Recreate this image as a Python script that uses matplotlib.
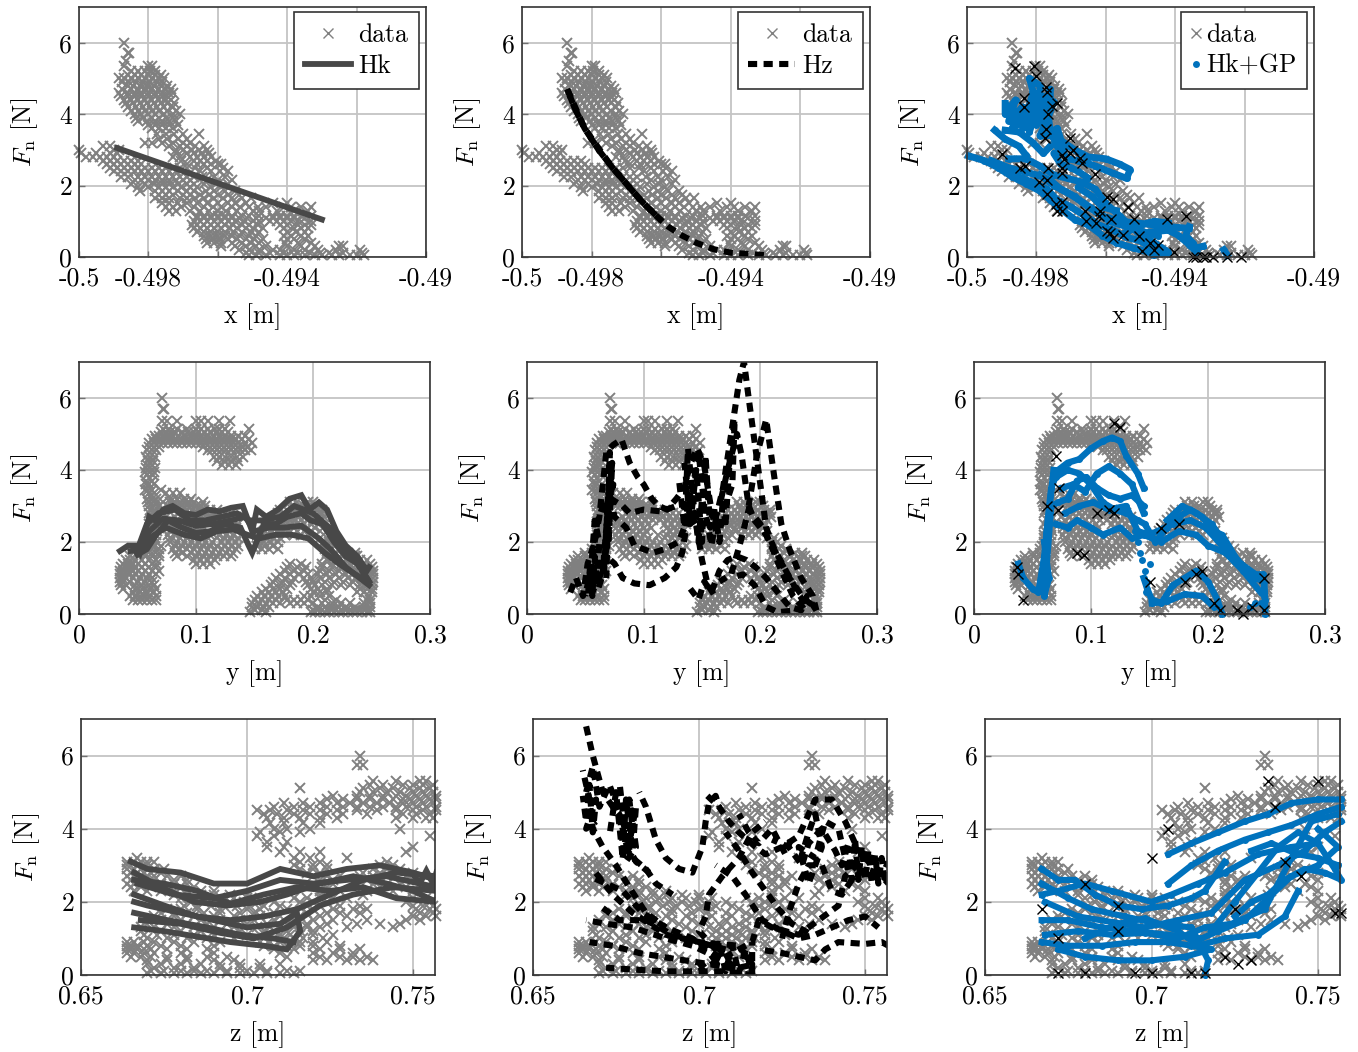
#!/usr/bin/env python
import matplotlib
matplotlib.use('AGG')
import matplotlib.pyplot as plt

plt.rcParams['font.family'] = ['cmr10', 'DejaVu Serif']
plt.rcParams['mathtext.fontset'] = 'cm'
plt.rcParams['axes.unicode_minus'] = False
plt.rcParams['axes.formatter.use_mathtext'] = True

W, H = 1358, 1052
GRAY = '#808080'
DARK = '#484848'
BLUE = '#0072BD'
FS = 18.5

# measured data, each row is (force, positions at that force). positions in mm
x_bands = [
    (6.0, [-498.7]), (5.7, [-498.6, -498.55]), (5.5, [-498.65]), (5.35, [-498.7, -498.0, -497.9]),
    (5.2, [-498.5, -498.3, -498.1, -497.95, -497.8]),
    (5.0, [-498.85, -498.7, -498.5, -498.3, -498.1, -497.9, -497.7, -497.55]),
    (4.8, [-498.6, -498.45, -498.25, -498.05, -497.85, -497.65, -497.45, -497.95, -498.15]),
    (4.6, [-498.85, -498.6, -498.4, -498.2, -498, -497.8, -497.6, -497.4, -497.3]),
    (4.4, [-498.7, -498.5, -498.3, -498.1, -497.9, -497.7, -497.5, -497.35]),
    (4.2, [-498.6, -498.35, -498.15, -497.95, -497.75, -497.55, -497.3]),
    (4.0, [-498.4, -498.2, -498.0, -497.8, -497.55, -497.3, -497.1]),
    (3.8, [-498.3, -498.05, -497.8, -497.6, -497.4, -497.2]),
    (3.6, [-497.9, -497.7, -497.5, -497.3]),
    (3.45, [-497.75, -497.5, -497.25, -497.0, -496.55]),
    (3.2, [-498.1, -497.9, -497.6, -497.3, -497, -496.8]),
    (3.0, [-497.2, -497, -496.75, -496.55, -496.3, -500, -499.0, -498.85]),
    (2.8, [-497.3, -497.1, -496.8, -496.6, -496.4, -496.2, -499.8, -499.6, -499.4, -499.2, -499.0]),
    (2.6, [-496.9, -496.6, -496.4, -496.2, -496, -495.9, -499.2, -499, -498.8, -498.6, -498.4, -498.2]),
    (2.4, [-496.5, -496.2, -495.95, -495.7, -499, -498.8, -498.6, -498.4, -498.2, -498, -497.8, -497.6, -497.4, -497.2]),
    (2.15, [-498.4, -498.2, -498, -497.8, -497.6, -497.4, -497.2, -497, -496.8, -496.3, -496, -495.6]),
    (1.95, [-498.3, -498.0, -497.7, -497.5, -497.3, -497.05, -496.8, -496.6, -496.2, -495.9]),
    (1.75, [-497.7, -497.5, -497.3, -497, -496.8, -496.5, -496.25, -496, -495.7, -495.4]),
    (1.5, [-497.6, -497.4, -497.15, -496.9, -496.6, -496.3, -496, -495.7, -495.5, -495.2, -494.4, -494.0]),
    (1.3, [-497.4, -497.2, -496.8, -496.5, -496.25, -496, -495.75, -495.45, -495, -494.8, -494.3, -493.4, -493.8]),
    (1.15, [-496.6, -496.4, -496.2, -496, -495.8, -495.6, -495.3, -495.1, -494.8, -494.4, -494.2, -494, -493.8, -493.6, -493.3]),
    (1.0, [-496.7, -496.5, -496.3, -496.1, -495.9, -495.7, -495.5, -495.25, -495, -494.8, -494.5, -494.3, -494.1, -493.9, -493.7, -493.3]),
    (0.8, [-496.7, -496.5, -496.3, -496.1, -495.9, -495.65, -495.45, -495.2, -495, -494.7, -494.1, -493.8, -493.6, -493.4]),
    (0.6, [-496.4, -496.2, -496, -495.8, -495.6, -495.35, -495.1, -494.9, -494.1, -493.9, -493.6, -493.4]),
    (0.4, [-496.3, -496.1, -495.9, -495.6, -495.3, -495.05, -494.8, -494.05, -493.7, -493.3]),
    (0.2, [-495.4, -495.1, -494.8, -494.4, -494.2, -493.8, -493.5, -493.1, -492.6, -491.9]),
    (0.05, [-495.1, -494.9, -494.6, -494.2, -494, -493.8, -493.5, -493.2, -493, -492.7, -492.5, -492.2, -492, -491.8]),
    # second pass, the dense parts of the cloud
    (5.1, [-498.6, -498.4, -498.2, -498, -497.8, -497.65]),
    (4.9, [-498.75, -498.55, -498.35, -498.15, -497.95, -497.75, -497.6]),
    (4.7, [-498.75, -498.5, -498.3, -498.1, -497.9, -497.7, -497.5, -497.35]),
    (4.5, [-498.8, -498.6, -498.4, -498.2, -498, -497.8, -497.6, -497.45]),
    (4.3, [-498.65, -498.45, -498.25, -498.05, -497.85, -497.65, -497.45, -497.25]),
    (4.1, [-498.5, -498.3, -498.1, -497.9, -497.7, -497.45, -497.2]),
    (3.9, [-498.35, -498.15, -497.9, -497.7, -497.5, -497.3]),
    (3.7, [-498, -497.8, -497.6, -497.4, -497.15]),
    (3.3, [-497.7, -497.45, -497.15, -496.9]),
    (3.1, [-497.4, -497.1, -496.9, -496.65, -496.4, -499.1, -499.3]),
    (2.9, [-497.2, -496.9, -496.7, -496.45, -496.25, -499.95, -499.5, -499.1, -498.9]),
    (2.7, [-497.05, -496.7, -496.5, -496.3, -496.05, -499.3, -499.1, -498.9, -498.7, -498.5, -498.3]),
    (2.5, [-499.1, -498.9, -498.7, -498.5, -498.3, -498.1, -497.9, -497.7, -497.5, -497.3, -497.1, -496.9, -496.65, -496.3, -495.85]),
    (2.25, [-498.8, -498.6, -498.3, -498.1, -497.9, -497.7, -497.5, -497.3, -497.1, -496.9, -496.7, -496.45, -496.1, -495.8]),
    (2.05, [-498.5, -498.1, -497.85, -497.6, -497.4, -497.15, -496.9, -496.7, -496.4, -496.05, -495.7]),
    (1.85, [-498.25, -497.8, -497.6, -497.4, -497.15, -496.9, -496.7, -496.35, -496.1, -495.8, -495.5]),
    (1.65, [-497.8, -497.6, -497.4, -497.1, -496.9, -496.65, -496.4, -496.1, -495.85, -495.6, -495.3, -495.05]),
    (1.4, [-497.5, -497.3, -497.05, -496.7, -496.4, -496.15, -495.9, -495.6, -495.35, -495.1, -494.85, -494.6, -494.1, -493.9, -493.6, -493.3]),
    (1.08, [-496.6, -496.4, -496.2, -496, -495.8, -495.6, -495.4, -495.15, -494.9, -494.6, -494.4, -494.2, -494, -493.8, -493.5]),
    (0.9, [-496.75, -496.6, -496.4, -496.2, -496, -495.8, -495.55, -495.3, -495.1, -494.85, -494.2, -494, -493.7, -493.5, -493.3]),
    (0.7, [-496.6, -496.4, -496.2, -496, -495.8, -495.55, -495.3, -495.05, -494.8, -494, -493.75, -493.5]),
    (0.5, [-496.35, -496.15, -495.95, -495.7, -495.45, -495.2, -494.95, -494.7, -494, -493.8, -493.5]),
    (0.3, [-495.9, -495.5, -495.2, -494.9, -494.6, -494, -493.6, -493.2, -492.5, -492.4]),
    (0.12, [-495.2, -494.8, -494.5, -494.1, -493.7, -493.35, -493.05, -492.8, -492.4, -491.85]),
]
y_bands = [
    (6.0, [71]), (5.7, [72, 73]), (5.35, [71, 75, 84, 100, 104, 110, 120, 129]),
    (5.15, [72, 77, 84, 92, 100, 104, 110, 116, 120, 125, 145]),
    (4.95, [65, 68, 72, 76, 80, 85, 90, 95, 100, 105, 110, 115, 120, 125, 130, 136, 142]),
    (4.75, [60, 64, 68, 72, 76, 80, 84, 88, 92, 96, 100, 104, 108, 112, 116, 120, 124, 128, 132, 136, 142, 148]),
    (4.55, [58, 62, 66, 110, 114, 118, 122, 126, 130, 134, 138, 142, 147]),
    (4.35, [57, 61, 65, 115, 120, 125, 130, 135, 140]),
    (4.15, [58, 62, 122, 128, 134]), (3.95, [56, 60, 64]), (3.7, [57, 62]), (3.45, [56, 59, 62, 70]),
    (3.2, [58, 62, 66, 78, 84, 90, 96]),
    (3.0, [60, 64, 68, 76, 80, 84, 88, 92, 96, 100, 104, 108, 182, 188, 192, 202]),
    (2.8, [60, 64, 85, 90, 95, 100, 105, 110, 115, 120, 125, 130, 170, 175, 180, 185, 190, 195, 200, 205, 208]),
    (2.6, [62, 66, 78, 84, 90, 96, 102, 108, 114, 120, 126, 132, 165, 170, 175, 180, 185, 190, 195, 200, 206]),
    (2.4, [62, 66, 76, 82, 88, 94, 100, 106, 120, 126, 134, 160, 166, 172, 178, 184, 190, 196, 202]),
    (2.2, [60, 66, 76, 82, 88, 94, 100, 112, 120, 126, 132, 156, 162, 168, 176, 184, 190, 196]),
    (2.0, [60, 66, 78, 84, 90, 96, 102, 108, 114, 122, 128, 134, 152, 158, 164, 170, 210, 214]),
    (1.8, [56, 62, 68, 80, 86, 92, 98, 104, 110, 116, 122, 128, 134, 150, 156, 162, 170, 210, 216, 222]),
    (1.6, [44, 50, 56, 62, 68, 84, 92, 100, 106, 112, 118, 124, 130, 210, 218, 226, 236, 238]),
    (1.4, [38, 42, 46, 50, 56, 62, 66, 100, 106, 112, 180, 190, 208, 216, 224, 232, 238, 244, 249]),
    (1.2, [35, 38, 42, 46, 50, 56, 62, 68, 176, 184, 192, 206, 214, 222, 230, 236, 242, 248, 251]),
    (1.0, [35, 37, 40, 46, 52, 58, 62, 168, 176, 184, 192, 198, 206, 214, 222, 230, 236, 242, 248, 251]),
    (0.8, [36, 40, 48, 54, 60, 64, 164, 172, 180, 196, 202, 208, 216, 224, 232, 240, 246, 250]),
    (0.6, [46, 52, 58, 64, 156, 162, 168, 174, 200, 206, 212, 238, 244, 250]),
    (0.4, [46, 50, 54, 58, 62, 66, 150, 156, 162, 168, 178, 184, 190, 196, 210, 220, 246, 249]),
    (0.2, [148, 152, 158, 162, 204, 210, 216, 222, 228, 236, 244, 249]),
    (0.05, [146, 160, 198, 202, 206, 210, 214, 218, 222, 226, 230, 234, 238, 242, 246, 249]),
    # second pass
    (5.05, [70, 74, 78, 82, 88, 93, 98, 102, 107, 112, 118, 122, 127]),
    (4.85, [62, 66, 70, 74, 78, 82, 86, 90, 94, 98, 102, 106, 110, 114, 118, 122, 126, 130, 134, 139, 145]),
    (4.65, [60, 64, 68, 106, 112, 116, 120, 124, 128, 132, 136, 140, 144]),
    (4.25, [59, 63, 118, 124, 130, 136]), (4.05, [57, 61, 65]), (3.85, [58, 63]), (3.6, [57, 60, 64]),
    (3.35, [60, 64, 74, 80, 86]),
    (3.1, [59, 63, 67, 72, 78, 82, 86, 90, 94, 98, 106, 180, 186, 196, 200]),
    (2.9, [61, 65, 70, 88, 92, 97, 102, 107, 112, 118, 172, 178, 183, 188, 193, 198, 203, 208]),
    (2.7, [63, 67, 74, 82, 87, 92, 98, 104, 110, 116, 122, 128, 134, 168, 173, 178, 183, 188, 193, 198, 204, 209]),
    (2.5, [60, 65, 76, 80, 86, 92, 98, 104, 118, 124, 130, 136, 162, 168, 174, 180, 186, 192, 198, 204]),
    (2.3, [61, 67, 78, 84, 90, 96, 102, 122, 128, 134, 158, 164, 170, 178, 186, 192, 198, 206]),
    (2.1, [60, 65, 78, 86, 92, 98, 104, 118, 124, 130, 136, 154, 160, 166, 172, 206, 212]),
    (1.9, [58, 64, 70, 82, 88, 94, 100, 106, 112, 118, 124, 130, 136, 152, 158, 166, 210, 218]),
    (1.7, [50, 56, 62, 68, 82, 88, 96, 102, 108, 114, 120, 126, 132, 212, 220, 230, 236]),
    (1.5, [40, 44, 48, 54, 60, 66, 98, 104, 110, 116, 212, 220, 228, 234, 240, 246]),
    (1.3, [36, 40, 44, 48, 54, 60, 66, 178, 186, 194, 208, 216, 224, 232, 238, 244, 250]),
    (1.1, [35, 38, 42, 48, 54, 60, 66, 172, 180, 188, 196, 204, 212, 220, 228, 234, 240, 246, 251]),
    (0.9, [35, 38, 44, 50, 56, 62, 166, 174, 182, 194, 200, 210, 218, 226, 234, 242, 248, 251]),
    (0.7, [38, 48, 54, 60, 66, 160, 166, 172, 178, 198, 204, 212, 240, 246, 250]),
    (0.5, [44, 48, 52, 56, 60, 66, 152, 158, 164, 170, 176, 192, 198, 206, 214, 248]),
    (0.3, [148, 154, 160, 166, 172, 180, 186, 192, 200, 208, 216, 224, 232, 244, 249]),
    (0.12, [150, 156, 200, 204, 208, 212, 216, 220, 224, 228, 232, 236, 240, 244, 248]),
]
z_bands = [
    (6.0, [734]), (5.75, [733, 735]), (5.3, [738, 745, 752, 754]),
    (5.1, [716, 735, 740, 744, 749, 752, 755]),
    (4.9, [726, 733, 737, 741, 745, 748, 751, 754, 757]),
    (4.7, [711, 717, 722, 727, 731, 735, 739, 743, 747, 750, 753, 756]),
    (4.5, [703, 707, 712, 717, 722, 727, 733, 739, 745, 750, 753, 757]),
    (4.3, [706, 711, 716, 722, 727, 745, 750, 754, 756]),
    (4.0, [708, 712, 719, 746]), (3.8, [703, 708, 755]), (3.5, [706, 711, 750]),
    (3.2, [714, 719, 730, 667]),
    (3.0, [664, 667, 670, 714, 720, 724, 740, 744]),
    (2.8, [665, 667, 669, 671, 674, 718, 722, 735, 740, 744, 750]),
    (2.6, [665, 667, 669, 672, 678, 682, 722, 726, 736, 740, 750]),
    (2.4, [665, 668, 671, 676, 680, 684, 724, 740, 748]),
    (2.2, [678, 682, 686, 690, 695, 700, 722, 735]),
    (2.0, [683, 687, 691, 695, 699, 703, 708, 716, 720, 724, 748, 755]),
    (1.8, [676, 680, 685, 692, 700, 704, 712, 720, 726, 732, 736, 751, 755, 757]),
    (1.6, [672, 678, 684, 690, 696, 704, 710, 716, 722, 730, 750, 754, 757]),
    (1.4, [670, 676, 682, 688, 694, 700, 706, 712, 718, 724, 733, 740, 746]),
    (1.2, [668, 674, 680, 686, 692, 698, 705, 708, 712, 716, 720]),
    (1.0, [670, 676, 682, 688, 696, 705, 708, 711, 714, 717, 723]),
    (0.8, [664, 665, 667, 670, 674, 680, 690, 705, 708, 712, 716, 720, 728]),
    (0.6, [664, 666, 669, 672, 680, 690, 710, 720, 726, 732]),
    (0.4, [670, 676, 682, 690, 696, 720, 724, 730, 734, 738]),
    (0.2, [672, 678, 684, 692, 698, 704]),
    (0.05, [670, 674, 678, 682, 686, 690, 694, 698, 702, 706, 710, 714]),
    # second pass
    (5.2, [737, 741, 747, 750, 753, 756]),
    (5.0, [734, 738, 742, 746, 750, 753, 756]),
    (4.8, [724, 729, 733, 737, 741, 744, 747, 749, 752, 755, 757]),
    (4.6, [708, 714, 719, 724, 729, 733, 737, 741, 745, 748, 751, 754, 757]),
    (4.4, [705, 709, 714, 719, 724, 729, 736, 747, 751, 755]),
    (4.15, [707, 711, 717, 722]), (3.9, [704, 710, 716]), (3.65, [706, 712]), (3.35, [710, 716, 722, 748]),
    (3.1, [664, 666, 668, 670, 672, 716, 722, 742]),
    (2.9, [664, 666, 668, 670, 672, 675, 716, 720, 724, 738, 742, 746]),
    (2.7, [664, 666, 668, 670, 672, 676, 680, 720, 724, 728, 734, 738, 742, 748]),
    (2.5, [664, 666, 668, 670, 674, 678, 682, 722, 726, 738, 742, 746]),
    (2.3, [666, 670, 674, 678, 682, 686, 690, 722, 728, 736, 744, 750]),
    (2.1, [680, 684, 688, 692, 696, 700, 704, 714, 718, 722, 726, 730, 750, 754]),
    (1.9, [681, 685, 689, 693, 697, 701, 705, 710, 718, 722, 728, 734, 750, 753, 756]),
    (1.7, [674, 678, 682, 687, 692, 698, 702, 708, 714, 718, 724, 728, 734, 752, 756]),
    (1.5, [670, 674, 680, 686, 692, 698, 702, 708, 714, 720, 726, 736, 748, 752]),
    (1.3, [668, 672, 678, 684, 690, 696, 703, 707, 710, 714, 718, 722, 730, 744]),
    (1.1, [669, 673, 678, 684, 690, 700, 704, 707, 710, 713, 716, 720, 726]),
    (0.9, [664, 666, 669, 672, 678, 684, 692, 704, 707, 710, 713, 716, 720, 724]),
    (0.7, [664, 665, 667, 669, 671, 676, 682, 688, 708, 714, 722, 728, 734]),
    (0.5, [665, 668, 671, 676, 682, 688, 694, 712, 722, 728, 732, 736]),
    (0.3, [670, 674, 680, 686, 692, 698, 704, 710]),
    (0.12, [671, 675, 680, 684, 688, 694, 700, 706, 712, 716]),
]

# model traces as (position mm, force)
hk_x = [[(-498.9, 3.05), (-493.0, 1.05)]]
hz_x = [
    [(-498.7, 4.7), (-498.5, 4.2), (-498.2, 3.6), (-497.8, 3.0), (-497.4, 2.5), (-497, 2.05), (-496.6, 1.6),
     (-496.2, 1.2), (-495.8, 0.85), (-495.4, 0.6), (-495, 0.4), (-494.5, 0.22), (-494, 0.12), (-493, 0.05)],
    [(-496.0, 1.02), (-496.6, 1.6), (-497, 2.05), (-497.4, 2.5), (-497.8, 3.0), (-498.2, 3.6), (-498.5, 4.2), (-498.7, 4.7)],
    [(-498.7, 4.7), (-498.2, 3.6), (-497.4, 2.5), (-496.6, 1.6), (-496.0, 1.02)],
]
gp_x = [
    [(-499.95, 2.83), (-499.5, 2.7), (-499.1, 2.5), (-498.7, 2.25), (-498.3, 2.05), (-497.9, 1.85), (-497.6, 1.6),
     (-497.3, 1.35), (-496.9, 1.05), (-496.5, 0.9), (-496.1, 0.6), (-495.7, 0.4), (-495.2, 0.25), (-494.7, 0.12), (-494.4, 0.1)],
    [(-499.3, 2.7), (-498.8, 2.5), (-498.4, 2.4), (-498, 2.3), (-497.6, 2.15), (-497.3, 1.9), (-496.9, 1.7), (-496.5, 1.4),
     (-496.1, 1.15), (-495.6, 1.0), (-495.1, 0.95), (-494.6, 0.9), (-494.2, 0.85), (-493.6, 0.8)],
    [(-498.8, 2.75), (-498.3, 2.75), (-497.9, 2.55), (-497.5, 2.3), (-497.1, 2.2), (-496.7, 2.1), (-496.3, 1.9), (-496, 1.5),
     (-495.6, 1.15), (-495.1, 0.7), (-494.6, 0.4), (-494.3, 0.2)],
    [(-498.9, 2.4), (-498.4, 2.2), (-498, 2.05), (-497.7, 1.9), (-497.4, 1.6), (-497, 1.4), (-496.6, 1.15), (-496.2, 0.9), (-495.8, 0.75),
     (-495.4, 0.55), (-495, 0.45), (-494.6, 0.2)],
    [(-497.9, 2.3), (-497.5, 2.0), (-497.1, 1.8), (-496.7, 1.55), (-496.3, 1.3), (-495.9, 1.0), (-495.4, 0.85), (-494.9, 0.7), (-494.5, 0.6)],
    [(-498.9, 4.3), (-498.9, 4.0), (-498.6, 4.4), (-498.8, 3.8), (-498.4, 4.2), (-498.7, 3.6), (-498.3, 3.9), (-498.1, 4.6), (-498.2, 3.5),
     (-498, 4.3), (-498.2, 5.0), (-497.9, 4.8), (-497.9, 4.0), (-497.6, 4.7), (-497.6, 4.2), (-497.5, 4.35), (-497.7, 3.8), (-497.9, 3.4),
     (-497.5, 3.4), (-497.2, 3.2), (-496.9, 3.0), (-496.5, 2.8), (-496.0, 2.75), (-495.6, 2.6), (-495.3, 2.45), (-495.4, 2.2), (-495.8, 2.35),
     (-496.3, 2.55), (-496.8, 2.7), (-497.1, 2.75), (-497.4, 3.1), (-497.6, 3.5)],
    [(-498.85, 4.15), (-498.5, 4.0), (-498.6, 3.7), (-498.2, 4.1), (-498.4, 3.6), (-498.1, 4.4), (-498.0, 3.7), (-497.8, 4.5), (-497.8, 3.6),
     (-497.7, 4.3), (-497.6, 3.5), (-497.4, 3.6), (-497.2, 3.0), (-497.5, 2.9), (-497.3, 2.6), (-497, 2.5), (-496.8, 2.4), (-496.5, 2.2),
     (-496.8, 1.95), (-496.4, 1.7), (-496.1, 1.4), (-495.7, 1.3)],
    [(-499.2, 3.55), (-498.9, 3.3), (-498.5, 3.1), (-498.3, 2.85)],
    [(-498.9, 3.55), (-498.5, 3.5), (-498.1, 3.2), (-497.8, 2.9), (-497.6, 3.1)],
    [(-493.6, 0.85), (-493.7, 0.6), (-493.5, 0.4), (-493.4, 0.25), (-493.2, 0.3)],
    [(-494.7, 0.7), (-494.2, 0.75), (-493.9, 0.6), (-493.6, 0.35), (-493.4, 0.15)],
    [(-495.4, 0.7), (-495, 0.9), (-494.6, 1.0), (-494.2, 0.95)],
    [(-492.6, 0.2), (-492.5, 0.05)], [(-494.6, 0.06), (-494.2, 0.12)],
]
black_x = [(-498.61, 5.28), (-498.07, 5.35), (-498.0, 5.07), (-497.72, 4.75), (-497.7, 4.63), (-498.35, 4.44), (-498.35, 4.2),
           (-497.54, 4.24), (-497.4, 4.3), (-497.67, 4.0), (-497.72, 3.58), (-497.74, 3.32), (-497.03, 3.32), (-499, 2.89),
           (-498.33, 2.56), (-498.47, 2.5), (-497.67, 2.5), (-497.25, 2.86), (-497.2, 2.75), (-497.03, 2.9), (-496.95, 3.0),
           (-496.75, 2.77), (-496.7, 2.63), (-497.27, 2.48), (-497.27, 2.35), (-496.3, 2.32), (-497.92, 2.1), (-497.7, 2.16),
           (-497.7, 1.76), (-497.43, 1.49), (-497.27, 1.54), (-497.41, 1.28), (-497.27, 1.28), (-496.6, 1.3), (-496.17, 1.28),
           (-496.19, 1.16), (-495.96, 1.69), (-495.79, 1.63), (-495.36, 1.4), (-495.2, 1.07), (-495.84, 1.07), (-496.58, 1),
           (-496.28, 0.95), (-495.96, 0.72), (-495.87, 0.67), (-495.8, 0.53), (-495.5, 0.62), (-495.04, 0.6), (-494.96, 0.16),
           (-494.74, 0.39), (-494.5, 0.34), (-494.6, 0.2), (-494.04, 0.14), (-494.23, 1.07), (-493.68, 1.14), (-493.5, 0),
           (-493.4, 0), (-493.2, 0), (-493.1, 0), (-492.9, 0), (-492.5, 0), (-492.1, 0)]

hk_y = [
    [(35, 1.75), (42, 1.9), (48, 1.9), (52, 1.7), (56, 2.2), (60, 2.7), (65, 2.6), (72, 2.9), (80, 3.0), (90, 2.8), (100, 2.75),
     (110, 2.9), (120, 2.85), (130, 2.95), (140, 3.0), (148, 2.3), (152, 2.9), (160, 2.7), (170, 2.9), (180, 3.2), (190, 3.3),
     (197, 2.9), (205, 3.1), (212, 2.9), (220, 2.3), (228, 1.9), (238, 1.6), (246, 1.2), (248, 1.3)],
    [(248, 0.9), (238, 1.4), (228, 1.6), (218, 2.0), (208, 2.5), (198, 2.6), (190, 2.8), (178, 2.7), (168, 2.5), (158, 2.5),
     (148, 1.7), (145, 1.9), (138, 2.4), (125, 2.5), (112, 2.3), (100, 2.25), (88, 2.4), (76, 2.6), (66, 2.2), (58, 1.8), (50, 1.65)],
    [(52, 1.9), (60, 2.3), (72, 2.65), (85, 2.6), (100, 2.45), (115, 2.5), (130, 2.6), (142, 2.7), (150, 2.3), (162, 2.4),
     (175, 2.4), (190, 2.45), (205, 2.1), (215, 1.8), (228, 1.3), (240, 1.0), (248, 0.8)],
    [(50, 1.8), (58, 2.5), (68, 2.8), (82, 2.9), (95, 2.6), (108, 2.6), (122, 2.7), (135, 2.8), (146, 2.6), (156, 2.6), (172, 2.7),
     (184, 3.0), (200, 2.8), (214, 2.4), (225, 1.9), (236, 1.5), (246, 1.0)],
    [(44, 1.75), (54, 1.8), (60, 2.1), (74, 2.4), (90, 2.2), (104, 2.1), (118, 2.3), (132, 2.35), (144, 2.2), (154, 2.1), (168, 2.2),
     (182, 2.2), (196, 2.1), (210, 1.7), (222, 1.4), (236, 1.1), (247, 0.9)],
]
hz_y = [
    [(37, 0.6), (42, 1.0), (48, 0.5), (52, 1.4), (58, 2.0), (62, 2.7), (68, 4.5), (74, 4.7), (81, 4.85), (88, 4.2), (95, 3.8),
     (100, 3.6), (107, 3.2), (113, 3.0), (120, 2.9), (128, 3.2), (135, 3.5), (140, 4.2), (146, 4.6), (152, 4.1), (158, 2.9), (162, 2.3)],
    [(50, 0.5), (56, 1.5), (60, 2.5), (65, 3.0), (72, 3.2), (82, 3.0), (88, 2.8), (100, 2.9), (115, 2.85), (128, 3.0), (135, 3.0), (145, 2.5), (152, 2.4)],
    [(52, 0.7), (60, 0.6), (66, 1.2), (70, 3.5), (75, 2.7), (85, 2.4), (92, 1.9), (100, 1.8), (108, 1.7), (118, 1.8), (130, 2.0), (136, 2.5), (142, 3.5), (147, 4.5), (152, 3.0)],
    [(56, 0.8), (62, 1.0), (68, 1.6), (75, 1.4), (82, 1.0), (92, 0.85), (105, 0.8), (118, 1.0), (128, 1.3), (133, 1.7), (137, 2.5), (140, 3.3), (145, 2.5), (150, 1.5), (155, 0.8), (160, 0.55)],
    [(140, 0.7), (147, 0.4), (152, 0.9), (158, 0.6), (165, 1.2), (172, 1.5), (180, 1.6), (188, 1.5), (196, 1.3), (205, 1.0), (215, 0.6), (225, 0.2), (235, 0.1), (240, 0.5), (248, 0.1)],
    [(160, 2.4), (168, 3.5), (175, 5), (182, 6.5), (186, 7), (190, 6), (195, 4.8), (200, 3.6), (205, 2.4), (212, 1.8), (222, 1.2), (232, 0.6), (240, 0.2)],
    [(190, 3.0), (197, 4.4), (205, 5.4), (212, 3.8), (218, 2.5), (225, 1.8), (235, 1.0), (245, 0.5), (248, 0.1)],
    [(165, 3.0), (172, 4.0), (180, 5.0), (184, 4.4), (190, 3.0), (195, 2.6), (205, 2.2), (215, 1.6), (225, 1.0), (238, 0.4), (247, 0.2)],
    [(165, 0.9), (175, 1.1), (183, 2.0), (190, 2.9), (200, 2.5), (208, 2.0), (218, 1.2), (228, 0.5), (240, 0.05)],
    [(175, 1.0), (185, 1.1), (195, 0.8), (205, 0.2), (215, 0.05), (230, 0.1)],
    [(68, 1.0), (71, 4.5), (70, 2.0), (73, 4.2), (69, 2.8), (72, 4.0), (68, 1.8), (65, 1.2), (70, 3.2), (74, 3.6), (68, 3.0)],
    [(52, 0.4), (54, 1.3), (56, 0.5), (58, 1.6), (60, 0.8), (62, 2.0), (58, 2.6), (54, 0.8)],
    [(135, 4.2), (140, 2.5), (145, 4.0), (150, 2.0), (153, 4.4), (157, 2.4), (160, 3.0), (165, 2.0), (168, 3.2), (170, 2.4), (174, 4.4), (178, 5.4), (176, 3.6), (170, 3.0)],
    [(130, 3.8), (135, 2.4), (138, 4.6), (143, 3.0), (147, 2.0), (150, 3.2), (155, 2.5), (158, 1.9), (163, 2.8)],
]
gp_y = [
    [(38, 1.4), (42, 1.0), (50, 0.7), (55, 0.6), (60, 1.6), (63, 2.6), (66, 3.5), (72, 4.0), (80, 4.2), (90, 4.3), (100, 4.6),
     (110, 4.8), (118, 4.9), (125, 4.8), (130, 4.4), (140, 3.9), (145, 3.5)],
    [(66, 3.0), (72, 3.1), (80, 3.2), (88, 3.7), (96, 3.8), (105, 3.5), (115, 3.3), (125, 3.2), (135, 3.3), (145, 3.0)],
    [(70, 3.8), (80, 4.0), (90, 3.9), (100, 3.6), (110, 3.1), (120, 2.9), (130, 2.8), (140, 2.6), (146, 2.5), (155, 2.0), (165, 2.4),
     (175, 2.7), (185, 2.9), (195, 2.7), (205, 2.3), (212, 2.2), (225, 1.5), (240, 1.0), (248, 0.9), (249, 0)],
    [(70, 2.5), (80, 2.4), (88, 2.6), (100, 2.4), (110, 2.2), (125, 2.4), (135, 2.1), (145, 2.2), (160, 2.0), (175, 2.3), (190, 2.2),
     (200, 1.9), (215, 1.7), (230, 1.2), (245, 0.6)],
    [(145, 1.0), (148, 0.7), (152, 0.4), (160, 0.3), (170, 0.8), (180, 1.0), (190, 1.2), (200, 0.9), (208, 0.4), (212, 0.0)],
    [(152, 0.3), (165, 0.35), (180, 0.55), (195, 0.5), (205, 0.2)],
    [(60, 2.0), (64, 1.0), (60, 0.5), (66, 3.0), (62, 2.2), (68, 4.0)],
    [(75, 3.5), (85, 3.6), (95, 3.4), (105, 3.9), (115, 4.1), (125, 3.9), (135, 3.6), (145, 2.8)],
    [(78, 2.8), (90, 3.0), (102, 3.1), (115, 2.9), (130, 3.0), (140, 2.3), (150, 2.2), (170, 2.5), (185, 2.6), (198, 2.4), (212, 1.9), (228, 1.4), (245, 1.0)],
    [(165, 2.6), (178, 3.0), (190, 2.8), (203, 2.5), (218, 1.8), (235, 1.1), (247, 1.1), (249, 0.4)],
]
gp_y_dots = [(138, 2.3), (140, 2.0), (142, 1.7), (144, 1.5), (146, 1.2), (148, 0.9), (147, 0.6), (150, 1.4), (236, 0.2), (240, 0.3), (245, 0.3), (248, 0.5)]
black_y = [(37, 1.3), (38, 1.1), (42, 0.4), (62, 3.0), (72, 2.9), (73, 3.5), (70, 4.4), (120, 5.3), (125, 5.2), (115, 2.9), (120, 2.8),
           (105, 2.8), (88, 1.7), (94, 1.65), (150, 0.9), (180, 0.9), (190, 1.1), (195, 1.2), (205, 0.3), (210, 0.1), (225, 0.1),
           (230, 0.0), (238, 0.2), (248, 1.0), (248, 0.1), (160, 2.4), (175, 2.5)]

hk_z = [
    [(665, 3.1), (670, 2.9), (680, 2.8), (690, 2.5), (700, 2.5), (710, 2.9), (720, 2.7), (730, 2.9), (740, 3.0), (750, 2.8), (757, 2.6)],
    [(757, 2.0), (745, 2.1), (735, 2.4), (725, 2.3), (715, 2.4), (705, 2.2), (695, 1.95), (685, 2.3), (675, 2.5), (666, 2.6)],
    [(666, 2.2), (675, 1.9), (685, 1.6), (695, 1.5), (705, 1.6), (715, 1.8), (725, 2.2), (735, 2.6), (745, 2.8), (757, 2.7)],
    [(666, 1.3), (675, 1.2), (685, 1.05), (695, 0.9), (705, 0.8), (712, 0.7), (716, 1.2), (715, 1.7), (710, 1.4), (700, 1.3),
     (690, 1.5), (680, 1.7), (670, 1.9), (666, 2.0)],
    [(666, 2.8), (674, 2.4), (684, 2.0), (694, 1.9), (704, 2.0), (712, 2.2), (722, 2.5), (732, 2.7), (742, 2.5), (750, 2.3), (757, 2.0)],
    [(666, 1.7), (676, 1.5), (688, 1.3), (698, 1.1), (708, 1.0), (714, 0.9)],
    [(750, 2.75), (752, 2.5), (754, 2.85), (756, 2.5), (757, 2.8)],
    [(667, 2.5), (678, 2.2), (690, 2.1), (700, 2.3), (710, 2.6), (720, 2.5), (730, 2.6), (742, 2.7), (757, 2.4)],
    [(668, 1.5), (680, 1.4), (692, 1.15), (702, 1.0), (712, 1.3), (722, 1.9), (732, 2.2), (744, 2.4), (757, 2.3)],
]
hz_z = [
    [(666, 6.8), (668, 6.0), (671, 5.0), (674, 4.6), (676, 4.4), (678, 3.6), (681, 3.1), (685, 2.8)],
    [(665, 5.6), (667, 4.8), (668, 4.0), (671, 3.5), (675, 3.0), (679, 2.4), (684, 1.7), (690, 1.3)],
    [(666, 5.0), (668, 5.7), (670, 4.6), (673, 5.2), (676, 4.5), (677, 3.6), (680, 3.2), (684, 2.9), (687, 2.5), (692, 2.2)],
    [(682, 5.0), (684, 4.6), (685, 4.3), (687, 3.7), (690, 3.2), (694, 2.9), (698, 2.8), (701, 3.5), (702, 4.2), (703, 4.7), (705, 4.9), (706, 4.6)],
    [(702.5, 4.9), (706, 4.6), (709, 4.2), (712, 3.9), (717, 3.5), (720, 3.3), (725, 3.5), (730, 3.8), (735, 4.8), (740, 4.8), (744, 4.2), (748, 3.4), (752, 3.2), (757, 3.0)],
    [(705, 3.0), (710, 2.7), (714, 2.2), (719, 1.5), (725, 1.2), (730, 1.0), (735, 1.1), (740, 1.3), (745, 1.5), (750, 1.6), (754, 1.3)],
    [(672, 0.2), (680, 0.15), (690, 0.1), (700, 0.1), (708, 0.1), (716, 0.0)],
    [(666, 1.5), (672, 1.4), (680, 1.3), (690, 1.0), (698, 0.8), (705, 0.5), (712, 0.2), (717, 0.3)],
    [(667, 0.9), (674, 0.8), (682, 0.6), (692, 0.45), (703, 0.3), (712, 0.15)],
    [(667, 2.7), (672, 2.5), (677, 2.3), (683, 1.7), (690, 1.3), (698, 1.0), (706, 0.5)],
    [(700, 0.2), (706, 0.6), (700, 1.2), (702, 1.6), (703, 2.2), (707, 2.7), (712, 3.2), (716, 3.9), (720, 4.2)],
    [(718, 0.7), (725, 0.6), (730, 0.5), (735, 0.4), (738, 0.7), (742, 0.9), (750, 0.85), (755, 0.9), (757, 0.8)],
    [(725, 1.0), (727, 1.7), (730, 2.5), (733, 3.0), (737, 3.0), (740, 2.3), (743, 2.2), (746, 2.6), (750, 2.9), (757, 2.7)],
    [(676, 5.3), (677, 4.5), (678, 3.8), (677, 3.2), (680, 4.0), (679, 4.8), (681, 3.5), (678, 3.1)],
    [(708, 3.9), (712, 3.4), (716, 2.8), (720, 2.3), (724, 1.8), (728, 1.4), (734, 1.1)],
    [(730, 3.0), (733, 3.9), (735, 4.4), (737, 3.5), (733, 2.5), (730, 3.5), (735, 3.2), (738, 4.2), (742, 4.0), (745, 2.8)],
    [(700, 0.1), (708, 0.5), (716, 0.9), (718, 1.5), (722, 1.3), (730, 1.1), (742, 1.9), (744, 2.7), (750, 3.2), (757, 2.5)],
    [(668, 2.9), (674, 2.2), (680, 1.7), (690, 1.1), (700, 0.9), (712, 0.8), (716, 0.3), (716, 0)],
    [(665, 4.9), (666, 4.2), (667, 5.2), (668, 3.9), (669, 4.8), (666, 4.0), (669, 4.2)],
    [(673, 3.8), (675, 5.0), (677, 3.2), (678, 4.8), (680, 3.4), (681, 4.6), (679, 3.6), (677, 4.2)],
    [(745, 3.5), (746, 2.6), (747, 3.7), (748, 2.6), (749, 3.5), (750, 2.6), (751, 3.4), (752, 2.5), (753, 3.3), (754, 2.5), (755, 3.2), (756, 2.5), (757, 3.0)],
    [(704, 0.1), (706, 0.9), (708, 0.1), (710, 0.8), (712, 0.05), (714, 0.7), (716, 0.05), (716, 0.9)],
    [(722, 3.7), (727, 3.5), (731, 3.0), (733, 3.6), (737, 4.0), (741, 3.4), (743, 3.0), (745, 3.6)],
    [(670, 1.9), (676, 1.5), (684, 1.5), (692, 1.1), (700, 0.9), (708, 0.7)],
    [(712, 4.4), (715, 3.9), (718, 3.6), (722, 4.0), (726, 3.3), (728, 3.8)],
]
gp_z = [
    [(667, 2.9), (672, 2.6), (677, 2.6), (683, 2.2), (690, 1.9), (697, 1.8), (705, 1.9), (712, 2.1), (716, 2.3), (722, 3.1)],
    [(705, 3.3), (712, 3.6), (720, 3.9), (728, 4.2), (735, 4.4), (742, 4.7), (750, 4.8), (757, 4.8)],
    [(705, 2.5), (712, 3.0), (720, 3.4), (728, 3.7), (735, 3.9), (742, 4.1), (750, 4.4), (757, 4.6)],
    [(718, 1.2), (725, 2.0), (732, 2.8), (738, 3.5), (744, 3.9), (750, 3.6), (755, 2.9), (757, 2.6), (752, 2.8), (746, 2.9), (740, 2.6), (735, 2.2), (730, 2.0), (725, 1.6)],
    [(667, 0.9), (675, 0.8), (685, 0.8), (695, 0.9), (705, 0.9), (712, 0.8), (718, 0.7), (710, 0.5), (700, 0.4), (690, 0.4), (680, 0.5), (672, 0.7)],
    [(667, 1.5), (675, 1.5), (685, 1.3), (695, 1.2), (705, 1.1), (715, 1.0), (720, 1.2), (728, 1.5), (735, 2.1), (742, 2.7), (750, 3.0), (756, 3.5), (750, 4.0)],
    [(667, 2.5), (675, 2.1), (682, 1.8), (692, 1.6), (702, 1.4), (712, 1.3), (717, 0.4), (716, 0.0)],
    [(667, 2.2), (672, 2.3), (680, 2.5), (688, 2.3), (700, 2.0), (706, 2.2), (714, 2.5), (722, 2.8), (732, 3.3), (742, 3.5), (750, 3.6)],
    [(680, 1.0), (690, 1.4), (698, 1.55), (708, 1.2), (714, 0.8), (722, 1.0), (732, 1.1), (740, 1.6), (744, 2.3)],
    [(668, 1.1), (678, 1.2), (688, 1.1), (698, 1.15), (708, 1.0), (716, 1.3), (724, 1.4), (734, 1.8), (742, 3.2), (748, 4.2), (756, 4.4)],
    [(668, 2.0), (678, 1.6), (688, 1.45), (698, 1.3), (708, 1.5), (718, 1.7), (728, 2.6), (738, 3.0), (746, 3.4), (752, 3.9), (757, 4.2)],
    [(730, 3.4), (736, 3.6), (744, 3.3), (750, 3.2), (756, 3.0)],
]
black_z = [(667, 1.8), (690, 1.2), (672, 0.05), (680, 0.05), (695, 0.05), (700, 0.05), (712, 0.05), (716, 0.05), (722, 0.5), (726, 0.3),
           (730, 0.4), (735, 5.3), (737, 4.6), (750, 5.3), (757, 1.7), (755, 1.7), (700, 3.2), (705, 4.0), (672, 1.0), (680, 2.5),
           (725, 1.8), (740, 3.1), (745, 2.7), (690, 1.9)]

x_ticks = [-500, -498, -496, -494, -492, -490]
x_labels = ['-0.5', '-0.498', '', '-0.494', '', '-0.49']
y_ticks = [0, 100, 200, 300]
y_labels = ['0', '0.1', '0.2', '0.3']
z_ticks = [650, 700, 750]
z_labels = ['0.65', '0.7', '0.75']

# pixel boxes of axes (left, right) per row and (top, bottom)
boxes = [
    [(79, 426), (522, 870), (967, 1314)],
    [(79, 430), (527, 877), (974, 1325)],
    [(81, 435), (533, 887), (985, 1340)],
]
tops = [(7, 257), (362, 614), (719, 975)]
xlims = [(-500, -490), (0, 300), (650, 756.6)]
bands = [x_bands, y_bands, z_bands]
ticks = [x_ticks, y_ticks, z_ticks]
labels = [x_labels, y_labels, z_labels]
names = ['x [m]', 'y [m]', 'z [m]']
hks = [hk_x, hk_y, hk_z]
hzs = [hz_x, hz_y, hz_z]
gps = [gp_x, gp_y, gp_z]
blacks = [black_x, black_y, black_z]
gp_widths = [5.0, 4.6, 4.4]


def flatten(band):
    xs, fs = [], []
    for f, pos in band:
        for p in pos:
            xs.append(p)
            fs.append(f)
    return xs, fs


def setup(ax, row, xlim):
    ax.set_xlim(*xlim)
    ax.set_ylim(0, 7)
    ax.set_xticks(ticks[row])
    ax.set_xticklabels(labels[row])
    ax.set_yticks([0, 2, 4, 6])
    ax.set_yticklabels(['0', '2', '4', '6'])
    ax.grid(True, color='#c4c4c4', lw=1.3)
    ax.set_axisbelow(True)
    ax.tick_params(direction='in', length=4, width=1, color='#707070', labelsize=FS)
    ax.tick_params(axis='x', pad=7)
    ax.tick_params(axis='y', pad=5)
    for s in ax.spines.values():
        s.set_color('#333333')
        s.set_linewidth(1.2)
        s.set_zorder(6)
    ax.set_xlabel(names[row], fontsize=FS)
    ax.set_ylabel(r'$F_{\mathrm{n}}$ [N]', fontsize=FS)
    ax.xaxis.set_label_coords(0.5, -60 / ax.bbox.height, transform=ax.transAxes)
    ax.xaxis.label.set_va('center')
    ax.yaxis.set_label_coords(-54 / ax.bbox.width, 0.5, transform=ax.transAxes)
    ax.yaxis.label.set_va('center')


def add_legend(ax, hlen, pad):
    leg = ax.legend(loc='upper right', bbox_to_anchor=(1 - 7 / ax.bbox.width, 1 - 5 / ax.bbox.height), borderaxespad=0,
                    fontsize=FS, fancybox=False, framealpha=1, edgecolor='#333333', handlelength=hlen,
                    handletextpad=pad, borderpad=0.42, labelspacing=0.3)
    leg.get_frame().set_linewidth(1.2)
    leg.set_zorder(8)


fig = plt.figure(figsize=(W / 100, H / 100), dpi=100)
for row in range(3):
    t, b = tops[row]
    xs, fs = flatten(bands[row])
    for col in range(3):
        l, r = boxes[row][col]
        ax = fig.add_axes([l / W, 1 - b / H, (r - l) / W, (b - t) / H])
        setup(ax, row, xlims[row])
        ax.plot(xs, fs, ls='none', marker='x', ms=7.5, mew=1.4, color=GRAY, clip_on=False, zorder=3)
        ax.plot([], [], ls='none', marker='x', ms=7, mew=1.0, color=GRAY, label='data')
        if col == 0:
            for i, trace in enumerate(hks[row]):
                px, pf = zip(*trace)
                ax.plot(px, pf, color=DARK, lw=4.2, solid_joinstyle='miter', zorder=4, label='Hk' if i == 0 else None)
        elif col == 1:
            for i, trace in enumerate(hzs[row]):
                px, pf = zip(*trace)
                ax.plot(px, pf, color='black', lw=4.4, ls=(i * 1.3, (1.5, 1.05)), zorder=4, label='Hz' if i == 0 else None)
        else:
            for trace in gps[row]:
                px, pf = zip(*trace)
                ax.plot(px, pf, color=BLUE, lw=gp_widths[row], marker='o', ms=5, mew=0, zorder=4, clip_on=False)
            ax.plot([], [], ls='none', marker='o', ms=5, mew=0, color=BLUE, label='Hk+GP')
            if row == 1:
                px, pf = zip(*gp_y_dots)
                ax.plot(px, pf, ls='none', marker='o', ms=5, mew=0, color=BLUE, zorder=4)
            px, pf = zip(*blacks[row])
            ax.plot(px, pf, ls='none', marker='x', ms=7, mew=1.0, color='black', zorder=5, clip_on=False)
        if row == 0:
            if col == 2:
                add_legend(ax, 0.35, 0.2)
            else:
                add_legend(ax, 1.8, 0.3)

fig.savefig('out.png', dpi=100)
